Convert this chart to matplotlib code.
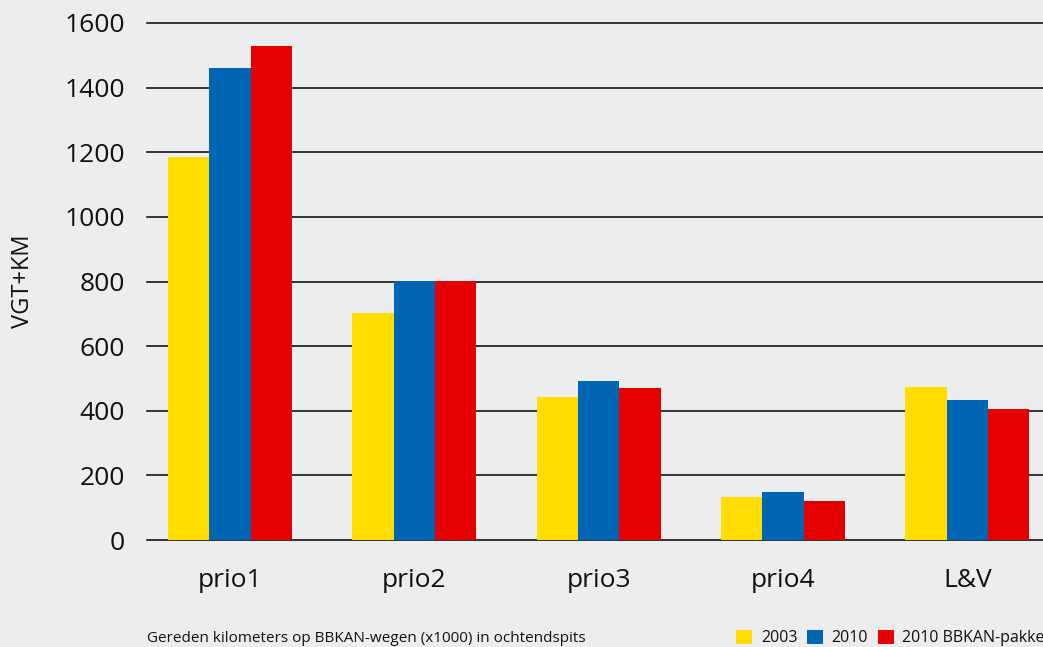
import numpy as np
import matplotlib.pyplot as plt

plt.rcParams['font.family'] = ['Open Sans', 'DejaVu Sans']

# 数据
categories = ['prio1', 'prio2', 'prio3', 'prio4', 'L&V']
v2003 = [1185, 702, 443, 134, 473]
v2010 = [1461, 803, 492, 149, 433]
v2010_bbkan = [1529, 803, 470, 121, 404]
series_names = ['2003', '2010', '2010 BBKAN-pakket']
colors = ['#FFDD00', '#0066B3', '#E50000']
bg = '#ECEDEF'

fig = plt.figure(figsize=(10.43, 6.47), dpi=100, facecolor=bg)
ax = fig.add_axes([147/1043, 107/647, 1 - 147/1043, 517/647])
ax.set_facecolor(bg)

x = np.arange(len(categories))
w = 0.224
bars = []
for i, (vals, c, name) in enumerate(zip([v2003, v2010, v2010_bbkan], colors, series_names)):
    b = ax.bar(x + (i - 1) * w, vals, width=w, color=c, label=name, zorder=3)
    bars.append(b)

#网格线
for yv in range(0, 1601, 200):
    ax.axhline(yv, color='black', linewidth=1.1, zorder=2, clip_on=False)

ax.set_xlim(-0.45, 4.41)
ax.set_ylim(0, 1600)
ax.set_yticks(range(0, 1601, 200))
ax.set_xticks(x)
ax.set_xticklabels(categories)
ax.tick_params(axis='both', length=0, labelsize=19, colors='#111111')
ax.tick_params(axis='y', pad=16)
ax.tick_params(axis='x', pad=20)
for s in ax.spines.values():
    s.set_visible(False)

ax.set_ylabel('VGT+KM', fontsize=17, color='#111111')
ax.yaxis.set_label_coords(-112/896, 0.5)

fig.text(147/1043, 1 - 639/647, 'Gereden kilometers op BBKAN-wegen (x1000) in ochtendspits',
         fontsize=11, ha='left', va='center', color='#111111')

leg = fig.legend(handles=bars, labels=series_names, loc='center left',
                 bbox_to_anchor=(736/1043, 1 - 638/647), ncol=3, frameon=False,
                 fontsize=11.5, handlelength=1.0, handleheight=1.0,
                 handletextpad=0.55, columnspacing=0.6, borderpad=0, borderaxespad=0)
for t in leg.get_texts():
    t.set_color('#111111')

plt.savefig('out.png', dpi=100, facecolor=bg)
